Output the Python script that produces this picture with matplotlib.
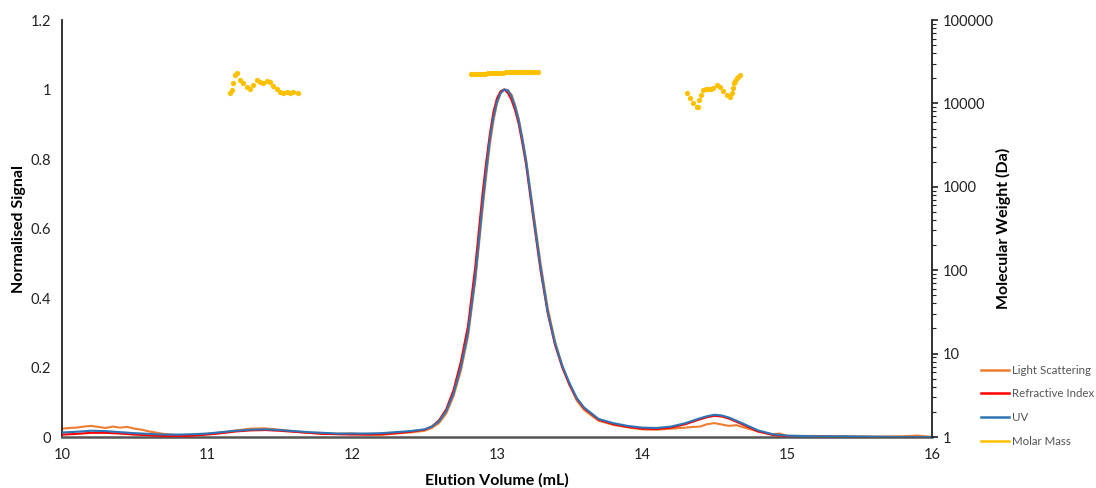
import numpy as np
import matplotlib.pyplot as plt
from matplotlib.lines import Line2D

plt.rcParams['font.family'] = ['Lato', 'DejaVu Sans']

# elution volume grid (mL) for the RI and UV traces
volume = [10.0, 10.1, 10.2, 10.3, 10.4, 10.5, 10.6, 10.7, 10.8, 10.9,
          11.0, 11.1, 11.2, 11.3, 11.4, 11.5, 11.6, 11.7, 11.8, 11.9,
          12.0, 12.1, 12.2, 12.3, 12.4, 12.5, 12.55, 12.6, 12.65, 12.7,
          12.75, 12.8, 12.85, 12.9, 12.925, 12.95, 12.975, 13.0, 13.025, 13.05,
          13.075, 13.1, 13.125, 13.15, 13.175, 13.2, 13.25, 13.3, 13.35, 13.4,
          13.45, 13.5, 13.55, 13.6, 13.7, 13.8, 13.9, 14.0, 14.1, 14.2,
          14.3, 14.4, 14.45, 14.5, 14.55, 14.6, 14.7, 14.8, 14.9, 15.0,
          15.2, 15.4, 15.6, 15.8, 16.0]

refractive_index = [0.007, 0.009, 0.012, 0.012, 0.010, 0.007, 0.005, 0.003, 0.002, 0.004,
                    0.007, 0.011, 0.016, 0.019, 0.020, 0.018, 0.015, 0.012, 0.009, 0.008,
                    0.007, 0.007, 0.008, 0.011, 0.015, 0.021, 0.030, 0.048, 0.080, 0.135,
                    0.215, 0.32, 0.49, 0.70, 0.79, 0.87, 0.935, 0.975, 0.995, 1.0,
                    0.99, 0.97, 0.94, 0.90, 0.845, 0.785, 0.63, 0.48, 0.355, 0.265,
                    0.20, 0.15, 0.11, 0.083, 0.050, 0.037, 0.029, 0.024, 0.023, 0.027,
                    0.037, 0.051, 0.057, 0.061, 0.059, 0.053, 0.035, 0.016, 0.006, 0.002,
                    0.001, 0.0, 0.0, 0.0, 0.0]

uv = [0.013, 0.015, 0.018, 0.017, 0.014, 0.011, 0.009, 0.007, 0.007, 0.008,
      0.010, 0.014, 0.018, 0.021, 0.022, 0.020, 0.017, 0.014, 0.012, 0.010,
      0.010, 0.010, 0.011, 0.014, 0.017, 0.022, 0.030, 0.045, 0.075, 0.125,
      0.20, 0.30, 0.46, 0.67, 0.765, 0.855, 0.92, 0.965, 0.99, 1.0,
      0.997, 0.98, 0.95, 0.91, 0.855, 0.795, 0.64, 0.49, 0.36, 0.27,
      0.205, 0.155, 0.112, 0.085, 0.052, 0.040, 0.032, 0.027, 0.026, 0.030,
      0.040, 0.054, 0.060, 0.064, 0.062, 0.056, 0.038, 0.019, 0.008, 0.004,
      0.002, 0.002, 0.001, 0.0, 0.0]

# light scattering is noisier, so it has its own grid
ls_volume = [10.0, 10.05, 10.1, 10.15, 10.2, 10.25, 10.3, 10.35, 10.4, 10.45,
             10.5, 10.55, 10.6, 10.7, 10.8, 10.9, 11.0, 11.1, 11.2, 11.3,
             11.4, 11.5, 11.6, 11.7, 11.8, 11.9, 12.0, 12.1, 12.2, 12.3,
             12.4, 12.5, 12.55, 12.6, 12.65, 12.7, 12.75, 12.8, 12.85, 12.9,
             12.925, 12.95, 12.975, 13.0, 13.025, 13.05, 13.075, 13.1, 13.125, 13.15,
             13.175, 13.2, 13.25, 13.3, 13.35, 13.4, 13.45, 13.5, 13.55, 13.6,
             13.7, 13.8, 13.9, 14.0, 14.1, 14.2, 14.3, 14.35, 14.4, 14.45,
             14.5, 14.55, 14.6, 14.65, 14.7, 14.75, 14.8, 14.9, 14.95, 15.0,
             15.2, 15.4, 15.6, 15.8, 15.9, 16.0]
light_scattering = [0.024, 0.026, 0.027, 0.030, 0.032, 0.029, 0.026, 0.030, 0.027, 0.029,
                    0.024, 0.021, 0.016, 0.009, 0.005, 0.006, 0.009, 0.013, 0.019, 0.024,
                    0.025, 0.021, 0.016, 0.012, 0.010, 0.009, 0.010, 0.007, 0.006, 0.010,
                    0.013, 0.018, 0.026, 0.040, 0.068, 0.118, 0.19, 0.29, 0.45, 0.655,
                    0.75, 0.84, 0.91, 0.96, 0.99, 1.0, 0.998, 0.985, 0.955, 0.915,
                    0.86, 0.80, 0.65, 0.50, 0.37, 0.275, 0.205, 0.15, 0.105, 0.078,
                    0.047, 0.035, 0.028, 0.022, 0.021, 0.024, 0.027, 0.029, 0.030, 0.037,
                    0.040, 0.036, 0.032, 0.034, 0.028, 0.022, 0.016, 0.008, 0.010, 0.003,
                    0.003, 0.002, 0.001, 0.002, 0.004, 0.0]

# molar mass (Da) across three slices
mm_vol_1 = [11.159, 11.170, 11.181, 11.193, 11.205, 11.228, 11.250, 11.274, 11.297, 11.319,
            11.343, 11.366, 11.388, 11.412, 11.434, 11.457, 11.481, 11.503, 11.526, 11.550,
            11.572, 11.595, 11.630]
mm_val_1 = [13200, 14500, 17400, 21900, 23000, 19100, 17400, 15900, 14800, 16600,
            19100, 18200, 17400, 18700, 18200, 16200, 14800, 13800, 13200, 13800,
            13400, 13700, 13200]

mm_vol_2 = [12.82, 12.84, 12.86, 12.88, 12.90, 12.92, 12.94, 12.96, 12.98, 13.00,
            13.02, 13.04, 13.06, 13.08, 13.10, 13.12, 13.14, 13.16, 13.18, 13.20,
            13.22, 13.24, 13.26, 13.28]
mm_val_2 = [22500, 22600, 22600, 22700, 22700, 22800, 22900, 23000, 23100, 23200,
            23300, 23400, 23500, 23600, 23700, 23800, 23800, 23900, 23900, 24000,
            24000, 24000, 24000, 23900]

mm_vol_3 = [14.308, 14.331, 14.354, 14.377, 14.388, 14.395, 14.405, 14.423, 14.440, 14.457,
            14.475, 14.492, 14.515, 14.538, 14.561, 14.584, 14.607, 14.619, 14.625, 14.634,
            14.644, 14.653, 14.665, 14.676]
mm_val_3 = [13200, 11500, 10200, 9100, 9000, 11000, 12600, 14500, 14700, 14800,
            15000, 15200, 16600, 15900, 14200, 12600, 12000, 13200, 15200, 17400,
            18600, 20000, 21000, 21900]

c_ls = '#ED7D31'
c_ri = '#FF0000'
c_uv = '#2E75B6'
c_mm = '#FFC000'

fig, ax = plt.subplots(figsize=(10.96, 4.88), dpi=100)
fig.subplots_adjust(left=0.0566, right=0.8504, bottom=0.1045, top=0.959)

ax.plot(ls_volume, light_scattering, color=c_ls, lw=1.5, zorder=2)
ax.plot(volume, refractive_index, color=c_ri, lw=1.5, zorder=3)
ax.plot(volume, uv, color=c_uv, lw=1.5, zorder=4)

ax.set_xlim(10, 16)
ax.set_ylim(0, 1.2)
ax.set_xticks(range(10, 17))
ax.set_yticks([0, 0.2, 0.4, 0.6, 0.8, 1.0, 1.2])
ax.set_yticklabels(['0', '0.2', '0.4', '0.6', '0.8', '1', '1.2'])
ax.tick_params(axis='both', length=0, labelsize=10.5, colors='#222222', pad=8)
ax.spines['top'].set_visible(False)
ax.spines['right'].set_visible(False)
ax.spines['left'].set_color('#222222')
ax.spines['left'].set_linewidth(1.3)
ax.spines['bottom'].set_color('#555555')
ax.spines['bottom'].set_linewidth(1.8)
ax.set_xlabel('Elution Volume (mL)', fontsize=11.5, fontweight='bold', labelpad=8)
ax.set_ylabel('Normalised Signal', fontsize=11.5, fontweight='bold', labelpad=3)

ax2 = ax.twinx()
for xs, ys in [(mm_vol_1, mm_val_1), (mm_vol_2, mm_val_2), (mm_vol_3, mm_val_3)]:
    ax2.plot(xs, ys, 'o', color=c_mm, ms=3.8, mec='none', zorder=5)
ax2.set_yscale('log')
ax2.set_ylim(1, 100000)
ax2.set_yticks([1, 10, 100, 1000, 10000, 100000])
ax2.set_yticklabels(['1', '10', '100', '1000', '10000', '100000'])
ax2.tick_params(axis='y', which='major', length=4, width=1.2, labelsize=10.5, colors='#222222')
ax2.tick_params(axis='y', which='minor', length=3, width=0.8, color='#222222')
for s in ['top', 'left', 'bottom']:
    ax2.spines[s].set_visible(False)
ax2.spines['right'].set_color('#222222')
ax2.spines['right'].set_linewidth(1.3)
ax2.set_ylabel('Molecular Weight (Da)', fontsize=11.5, fontweight='bold', labelpad=2)

handles = [Line2D([], [], color=c_ls, lw=1.8),
           Line2D([], [], color=c_ri, lw=1.8),
           Line2D([], [], color=c_uv, lw=1.8),
           Line2D([], [], color=c_mm, lw=1.8)]
labels = ['Light Scattering', 'Refractive Index', 'UV', 'Molar Mass']
fig.legend(handles, labels, loc='upper left', bbox_to_anchor=(0.8905, 0.262),
           frameon=False, fontsize=8.3, labelcolor='#555555', handlelength=2.5,
           handletextpad=0.2, labelspacing=1.1, borderaxespad=0)

fig.savefig('out.png', dpi=100)
